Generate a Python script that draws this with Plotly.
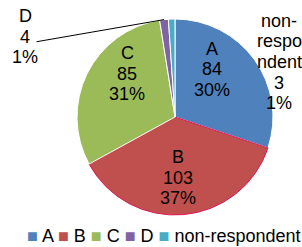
import math
import plotly.graph_objects as go

labels = ['A', 'B', 'C', 'D', 'non-respondent']
values = [84, 103, 85, 4, 3]
pct_text = ['30%', '37%', '31%', '1%', '1%']
colors = ['#4F81BD', '#C0504D', '#9BBB59', '#8064A2', '#4BACC6']
line_colors = ['white', '#E2185B', 'white', 'white', 'white']
# label text lines (the non-respondent label is wrapped as in the original)
label_lines = [
    ['A', '84', '30%'],
    ['B', '103', '37%'],
    ['C', '85', '31%'],
    ['D', '4', '1%'],
    ['non-', 'respo', 'ndent', '3', '1%'],
]

W, H = 302, 247
FONT = 'Liberation Sans, Arial, sans-serif'
FS = 18
STEP = 20.5

# pie geometry (pixels)
cx, cy, R = 175, 117, 98
dom_x = [(cx - R) / W, (cx + R) / W]
dom_y = [1 - (cy + R) / H, 1 - (cy - R) / H]

fig = go.Figure(go.Pie(
    labels=labels, values=values, customdata=pct_text,
    sort=False, direction='clockwise', rotation=0,
    marker=dict(colors=colors, line=dict(color=line_colors, width=1)),
    textinfo='none',
    domain=dict(x=dom_x, y=dom_y),
    showlegend=False, hoverinfo='label+value+percent',
))

# label anchor positions (pixel centre of first line)
label_pos = [(212, 49), (178, 157), (127, 53), (25, 16), (279, 21)]

annotations = []
for lines, (px, py) in zip(label_lines, label_pos):
    for i, t in enumerate(lines):
        annotations.append(dict(
            x=px / W, y=1 - (py + i * STEP) / H, xref='paper', yref='paper',
            text=t, showarrow=False, xanchor='center', yanchor='middle',
            font=dict(family=FONT, size=FS, color='black'),
        ))

# leader line for D (to slice mid-angle at pie edge)
total = sum(values)
cum = sum(values[:3])
mid = (cum + values[3] / 2) / total * 2 * math.pi
tipx = cx + R * math.sin(mid)
tipy = cy - R * math.cos(mid)
tail = (35, 42)
annotations.append(dict(
    x=tipx / W, y=1 - tipy / H, xref='paper', yref='paper',
    text='', showarrow=True, arrowhead=0, arrowwidth=1, arrowcolor='black',
    ax=tail[0] - tipx, ay=tail[1] - tipy, standoff=0, startstandoff=0,
))

legend_text = ' '.join(
    f"<span style='color:{c}'>■</span> {l}" for l, c in zip(labels, colors)
)
annotations.append(dict(
    x=164 / W, y=1 - 236 / H, xref='paper', yref='paper',
    text=legend_text, showarrow=False, xanchor='center', yanchor='middle',
    font=dict(family=FONT, size=FS, color='black'),
))

fig.update_layout(
    width=W, height=H,
    margin=dict(l=0, r=0, t=0, b=0),
    paper_bgcolor='white', plot_bgcolor='white',
    annotations=annotations,
)

fig.write_html('out.html', config={'displayModeBar': False},
               post_script="document.body.style.margin='0';")
